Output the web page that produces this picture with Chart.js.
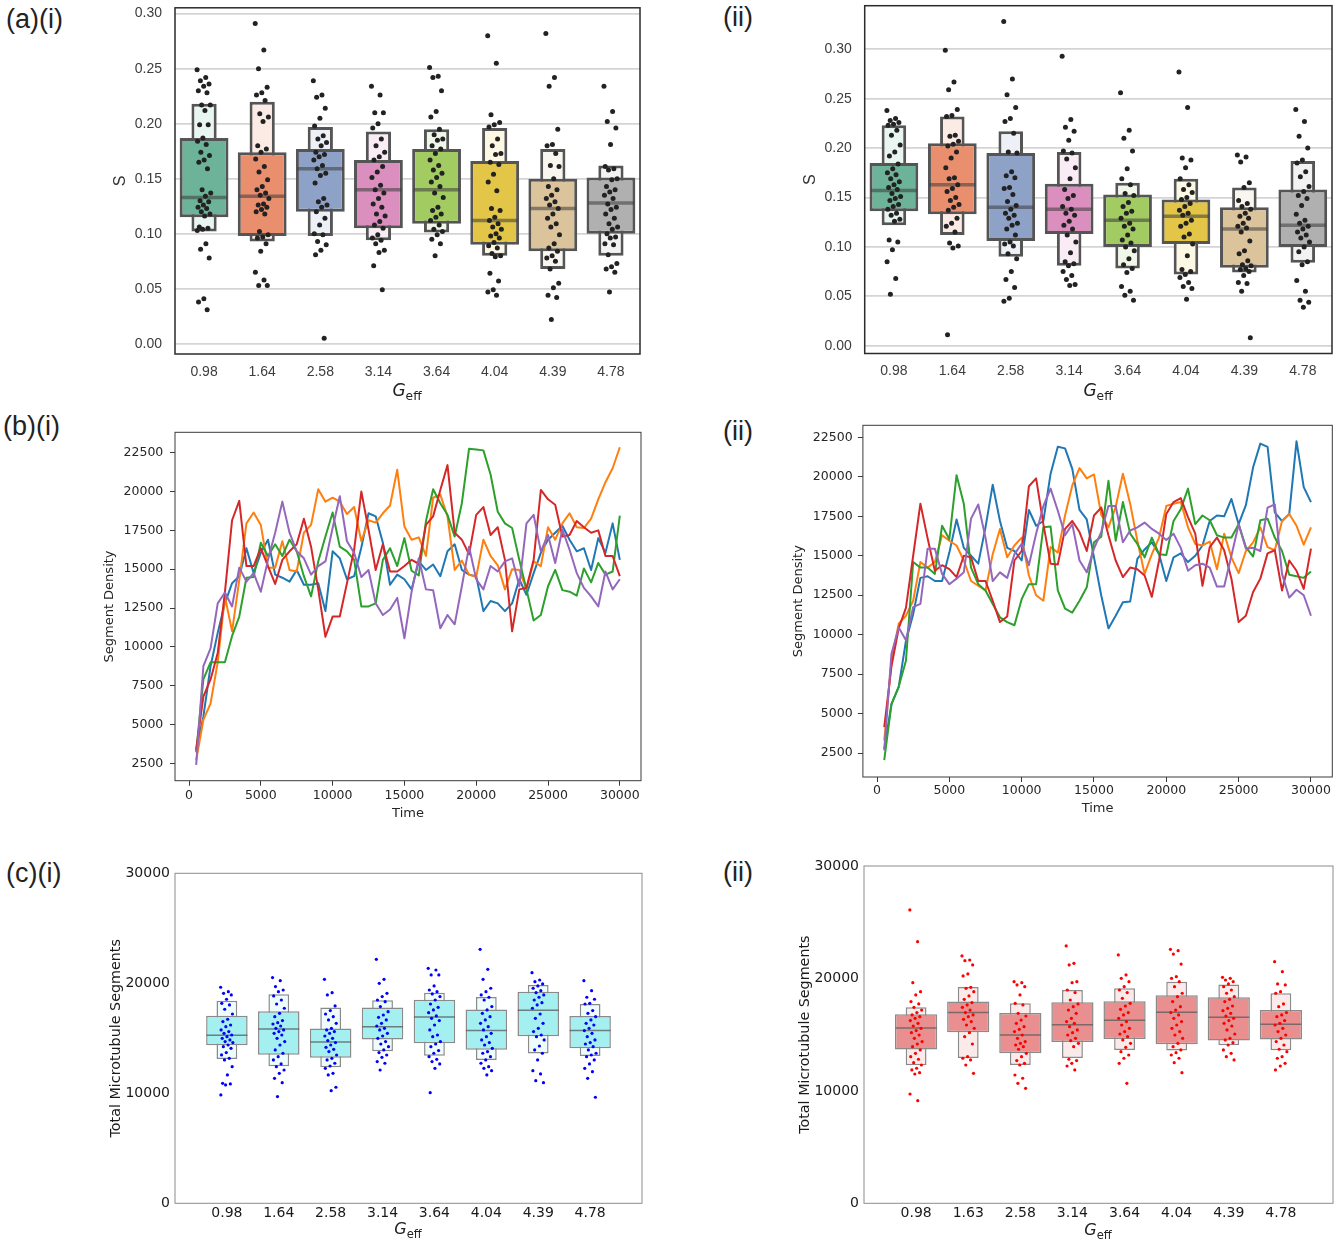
<!DOCTYPE html>
<html><head><meta charset="utf-8">
<script src="https://cdn.jsdelivr.net/npm/chart.js@4.4.1/dist/chart.umd.min.js"></script>
<style>
html,body{margin:0;padding:0;background:#fff}
body{width:1343px;height:1241px;position:relative;overflow:hidden}
canvas{position:absolute}
.pl{position:absolute;font-family:"Liberation Sans";font-size:27px;line-height:27px;color:#222;white-space:nowrap}
.gx{position:absolute;font-family:"DejaVu Sans";line-height:1;color:#222;transform:translateX(-50%);white-space:nowrap}
.gx i{font-style:italic}
.gx sub{font-size:0.72em;vertical-align:-0.35em;line-height:1}
</style></head><body>
<canvas id="a1" width="570" height="405" style="left:90px;top:0px"></canvas>
<canvas id="a2" width="563" height="405" style="left:780px;top:0px"></canvas>
<canvas id="b1" width="570" height="410" style="left:90px;top:420px"></canvas>
<canvas id="b2" width="563" height="410" style="left:780px;top:415px"></canvas>
<canvas id="c1" width="570" height="381" style="left:90px;top:860px"></canvas>
<canvas id="c2" width="563" height="391" style="left:780px;top:850px"></canvas>

<div class="pl" style="left:6px;top:6px">(a)(i)</div>
<div class="pl" style="left:723px;top:4px">(ii)</div>
<div class="pl" style="left:3px;top:413px">(b)(i)</div>
<div class="pl" style="left:723px;top:418px">(ii)</div>
<div class="pl" style="left:6px;top:860px">(c)(i)</div>
<div class="pl" style="left:723px;top:859px">(ii)</div>

<div class="gx" style="left:407px;top:382px;font-size:17px"><i>G</i><sub>eff</sub></div>
<div class="gx" style="left:1098px;top:382px;font-size:17px"><i>G</i><sub>eff</sub></div>
<div class="gx" style="left:408px;top:1221px;font-size:16px"><i>G</i><sub>eff</sub></div>
<div class="gx" style="left:1098px;top:1222px;font-size:16px"><i>G</i><sub>eff</sub></div>

<script>
// ================= DATA =================
const geffLabels = ['0.98','1.64','2.58','3.14','3.64','4.04','4.39','4.78'];
const geffLabelsC2 = ['0.98','1.63','2.58','3.14','3.64','4.04','4.39','4.78'];
const sTicks = [0, 0.05, 0.10, 0.15, 0.20, 0.25, 0.30];
const densityTicks = [2500, 5000, 7500, 10000, 12500, 15000, 17500, 20000, 22500];
const timeTicks = [0, 5000, 10000, 15000, 20000, 25000, 30000];
const segTicks = [0, 10000, 20000, 30000];

// (a)(i) letter-value boxes
const aiOuterHi = [0.218, 0.220, 0.197, 0.193, 0.195, 0.196, 0.177, 0.162];
const aiInnerHi = [0.187, 0.174, 0.177, 0.167, 0.177, 0.166, 0.150, 0.151];
const aiMedian  = [0.133, 0.134, 0.159, 0.140, 0.140, 0.112, 0.123, 0.128];
const aiInnerLo = [0.115, 0.098, 0.120, 0.105, 0.109, 0.090, 0.084, 0.100];
const aiOuterLo = [0.102, 0.093, 0.098, 0.094, 0.101, 0.080, 0.068, 0.080];
const aiPoints = [
 [0.249,0.242,0.239,0.236,0.234,0.230,0.228,0.217,0.217,0.212,0.199,0.199,0.187,0.184,0.181,0.174,0.171,0.167,0.165,0.159,0.140,0.137,0.134,0.130,0.129,0.126,0.124,0.123,0.120,0.118,0.116,0.106,0.105,0.104,0.103,0.091,0.086,0.078,0.041,0.038,0.031],
 [0.291,0.267,0.250,0.233,0.228,0.226,0.221,0.209,0.206,0.202,0.180,0.177,0.174,0.168,0.161,0.156,0.149,0.143,0.140,0.137,0.135,0.132,0.127,0.126,0.124,0.122,0.120,0.118,0.102,0.099,0.097,0.096,0.091,0.084,0.065,0.058,0.053,0.053],
 [0.239,0.226,0.224,0.214,0.205,0.198,0.189,0.186,0.183,0.180,0.174,0.172,0.170,0.167,0.162,0.159,0.155,0.153,0.146,0.132,0.129,0.126,0.124,0.120,0.114,0.108,0.100,0.099,0.093,0.090,0.085,0.081,0.005],
 [0.234,0.226,0.210,0.210,0.200,0.196,0.186,0.180,0.174,0.170,0.167,0.161,0.156,0.151,0.144,0.140,0.137,0.132,0.127,0.124,0.118,0.116,0.111,0.108,0.105,0.099,0.096,0.094,0.091,0.085,0.083,0.071,0.049],
 [0.251,0.243,0.242,0.230,0.211,0.206,0.195,0.190,0.186,0.185,0.180,0.177,0.173,0.167,0.162,0.158,0.155,0.151,0.147,0.143,0.137,0.133,0.124,0.121,0.118,0.115,0.112,0.108,0.104,0.102,0.099,0.095,0.091,0.080],
 [0.280,0.255,0.208,0.201,0.199,0.197,0.186,0.180,0.173,0.172,0.165,0.163,0.154,0.147,0.139,0.123,0.121,0.115,0.112,0.109,0.106,0.104,0.100,0.098,0.096,0.092,0.089,0.087,0.082,0.080,0.079,0.064,0.057,0.049,0.047,0.044],
 [0.282,0.242,0.234,0.195,0.181,0.180,0.173,0.162,0.161,0.150,0.143,0.140,0.135,0.132,0.129,0.126,0.123,0.118,0.114,0.109,0.106,0.099,0.091,0.087,0.084,0.080,0.078,0.075,0.068,0.055,0.051,0.044,0.042,0.022],
 [0.234,0.211,0.202,0.196,0.181,0.161,0.159,0.158,0.150,0.149,0.143,0.140,0.138,0.135,0.132,0.127,0.124,0.122,0.118,0.114,0.109,0.106,0.104,0.100,0.097,0.096,0.091,0.090,0.081,0.073,0.070,0.068,0.065,0.047]
];

// (a)(ii) letter-value boxes
const aiiOuterHi = [0.223, 0.232, 0.217, 0.196, 0.165, 0.169, 0.160, 0.187];
const aiiInnerHi = [0.185, 0.205, 0.195, 0.164, 0.153, 0.148, 0.140, 0.158];
const aiiMedian  = [0.157, 0.163, 0.140, 0.138, 0.127, 0.131, 0.118, 0.122];
const aiiInnerLo = [0.136, 0.133, 0.106, 0.113, 0.100, 0.103, 0.079, 0.100];
const aiiOuterLo = [0.122, 0.112, 0.090, 0.081, 0.078, 0.072, 0.074, 0.084];
const aiiPoints = [
 [0.238,0.230,0.228,0.226,0.224,0.223,0.218,0.213,0.203,0.196,0.192,0.184,0.179,0.175,0.173,0.169,0.166,0.163,0.160,0.158,0.154,0.151,0.149,0.147,0.143,0.141,0.138,0.134,0.132,0.128,0.126,0.107,0.105,0.097,0.085,0.068,0.052],
 [0.299,0.267,0.259,0.239,0.233,0.232,0.213,0.212,0.207,0.204,0.202,0.196,0.190,0.180,0.170,0.169,0.163,0.159,0.156,0.150,0.147,0.143,0.140,0.137,0.129,0.124,0.121,0.115,0.104,0.101,0.099,0.011],
 [0.328,0.270,0.254,0.241,0.230,0.227,0.215,0.196,0.195,0.176,0.172,0.170,0.160,0.159,0.153,0.146,0.142,0.138,0.134,0.132,0.129,0.124,0.122,0.118,0.112,0.105,0.103,0.101,0.093,0.088,0.075,0.067,0.059,0.048,0.045],
 [0.293,0.229,0.221,0.217,0.208,0.197,0.195,0.189,0.180,0.169,0.158,0.152,0.149,0.141,0.138,0.134,0.132,0.126,0.122,0.118,0.112,0.105,0.094,0.085,0.083,0.081,0.075,0.071,0.067,0.062,0.061],
 [0.256,0.218,0.210,0.197,0.179,0.169,0.163,0.154,0.152,0.145,0.141,0.136,0.134,0.129,0.124,0.121,0.118,0.112,0.107,0.104,0.100,0.096,0.088,0.082,0.078,0.074,0.060,0.055,0.051,0.046],
 [0.277,0.241,0.190,0.188,0.180,0.169,0.163,0.158,0.155,0.150,0.148,0.144,0.141,0.137,0.134,0.132,0.127,0.124,0.121,0.113,0.110,0.103,0.091,0.077,0.075,0.072,0.069,0.064,0.060,0.058,0.047],
 [0.193,0.191,0.186,0.165,0.160,0.147,0.144,0.141,0.138,0.134,0.131,0.129,0.124,0.121,0.119,0.115,0.106,0.096,0.093,0.086,0.082,0.081,0.078,0.077,0.075,0.071,0.064,0.063,0.055,0.008],
 [0.239,0.227,0.212,0.200,0.188,0.185,0.176,0.171,0.161,0.156,0.152,0.149,0.142,0.133,0.127,0.124,0.121,0.118,0.115,0.112,0.109,0.105,0.100,0.095,0.085,0.082,0.066,0.055,0.046,0.044,0.039]
];

// (b) segment density time series
const times = [500,1000,1500,2000,2500,3000,3500,4000,4500,5000,5500,6000,6500,7000,7500,8000,8500,9000,9500,10000,
 10500,11000,11500,12000,12500,13000,13500,14000,14500,15000,15500,16000,16500,17000,17500,18000,18500,19000,19500,20000,
 20500,21000,21500,22000,22500,23000,23500,24000,24500,25000,25500,26000,26500,27000,27500,28000,28500,29000,29500,30000];

const biBlue = [3300,5500,8750,10900,12800,14100,14550,16350,14750,16050,16900,14650,14450,14200,14950,14000,14000,14100,12300,16150,
 15700,14350,14550,16400,18600,18400,16700,14000,14650,14350,13700,15500,14950,15300,14550,16150,16600,14950,14650,14550,
 12300,12950,12800,12300,12800,14350,13350,14750,16050,16900,17350,17800,16900,16150,16350,14950,17000,16050,17950,15600];
const biOrange = [2700,5300,6350,9000,13250,11000,14300,17950,18650,17850,15100,15100,16800,14950,14850,17350,17850,20150,19350,19600,
 19350,18550,19000,16800,18150,18000,18600,19100,21400,17750,16900,17050,15850,19600,19800,18400,14950,15550,14650,14500,
 16900,15850,15250,13700,15000,14950,13700,15500,15200,17700,16900,17950,18600,17700,17650,18250,19500,20600,21500,22850];
const biGreen = [3200,7900,9000,9000,9000,10700,11950,14450,14500,16700,15850,16600,15850,16900,16150,14550,13250,15500,17100,18650,
 16450,16150,15600,12600,12600,12800,15600,16350,15200,17000,14900,14600,18100,20150,19250,18500,17100,19250,22750,22700,
 22650,21100,18700,17950,17650,15600,13700,11700,12050,13900,14950,13650,13550,13300,15050,14150,15400,14650,14850,18450];
const biRed = [3400,6800,7900,9600,13500,18150,19400,15200,15200,16350,15200,14050,15600,16150,16600,18250,16450,13700,10650,11950,
 11950,14100,16250,20000,17550,14950,16600,14850,14850,15200,15600,15350,17850,18400,20100,21700,17350,16900,15950,18500,
 19000,17200,17700,15600,11000,13700,13800,15600,20100,19500,19150,17100,17200,18100,17700,17350,17500,15850,15850,14550];
const biPurple = [2400,8750,9900,12800,13500,12600,15100,14200,14750,13550,15600,17350,19350,17350,16150,15700,14650,15200,15500,17650,
 19700,16800,16050,14500,14950,12800,12050,12400,13150,10550,13550,15700,13700,13650,11200,12050,11450,13900,16450,14350,
 13700,15200,14850,15500,15700,13900,17950,18500,16150,17200,15400,17550,16250,14750,13800,13250,12600,14850,13700,14350];

const biiBlue = [2770,5600,6700,9600,11300,13600,13700,13400,13400,15200,17300,15500,15000,14500,16800,19500,17200,15500,15300,14700,
 17900,16900,17200,20200,21900,21800,20500,17900,17300,14900,12500,10400,11200,12050,12100,14800,15400,15850,15100,13400,
 14900,15150,14600,15000,15650,17200,17550,17500,18600,17000,18200,20600,22100,21900,17750,17200,17650,22250,19350,18400];
const biiOrange = [3300,8350,10700,11200,12150,14600,14250,14600,16300,15950,15650,14700,13400,13100,12800,15100,16700,14900,15650,16150,
 13750,12500,12150,15550,15200,17550,19450,20550,19900,20150,17600,16800,18100,20200,18300,15950,13850,15100,16150,18150,
 18300,18400,16800,15750,15650,15900,14150,16400,14900,13900,15300,15850,16800,15550,15350,17200,17650,16900,15700,16800];
const biiGreen = [2050,5600,6700,8350,14600,14250,14250,13850,16900,16050,20100,18300,14250,13200,12800,11950,11100,10800,10600,12250,
 13200,13200,16800,16850,12800,11650,11400,12150,13000,15850,16200,19750,15950,18400,16400,15750,14900,16150,15100,15050,
 17200,17950,19250,17000,17550,17250,16300,16150,16150,17000,15550,14950,17250,17350,16150,15300,13800,13700,13600,14000];
const biiRed = [4140,8000,10400,11700,15000,18300,16100,14050,14400,14150,13650,15000,14900,13400,13400,12150,10800,11150,14700,15300,
 19400,19900,17000,14500,14450,16700,17200,16500,15300,17550,18050,16300,14700,13650,14250,14150,13750,12400,14700,17650,
 18400,18650,17450,16400,13100,15550,16150,15350,13550,10800,11200,12700,13550,15150,15350,12800,14700,14050,12900,15450];
const biiPurple = [2670,8800,10450,9650,11750,11950,15450,15450,13850,13200,13550,13950,17350,18250,16150,13400,13950,13600,15100,15750,
 14400,16400,18150,19250,17850,16300,17000,14700,13950,15450,16500,18150,18150,15850,16600,16800,17100,16700,16400,16000,
 16400,15500,14050,14400,14500,14250,13050,13050,15000,17000,15450,15500,15300,18050,18250,13850,12350,12850,12500,11200];

// (c)(i) total microtubule segments
const ciOuterHi = [18420, 19000, 17790, 18450, 19150, 18760, 19850, 18120];
const ciInnerHi = [17060, 17450, 15880, 17790, 18510, 17610, 19240, 17030];
const ciMedian  = [15270, 15850, 14670, 16060, 16940, 15700, 17540, 15700];
const ciInnerLo = [14360, 13510, 13240, 14880, 14550, 13970, 15180, 14090];
const ciOuterLo = [13120, 12450, 12360, 13820, 13420, 13030, 13610, 13390];
const ciPoints = [
 [19640,19240,19090,18940,18550,18180,18030,17640,17210,16730,16520,16210,16060,15760,15610,15450,15300,15150,15000,14850,14700,14610,14390,14240,14090,13700,13490,13180,13030,12420,11670,10910,10850,10760,9850],
 [20520,20240,19700,19390,19240,18850,18480,18120,17730,17270,16970,16610,16420,16300,16120,15910,15760,15610,15450,15300,15000,14700,14390,13940,13640,13330,13030,12670,12420,12120,11820,11360,10970,9700],
 [20360,19150,18940,17940,17520,17210,16970,16670,16360,15910,15760,15610,15450,15210,15000,14790,14610,14390,14180,14000,13790,13480,13180,13030,12730,12480,12270,11820,11670,10550,10240],
 [22180,20360,20000,19090,18790,18480,18330,17880,17420,17120,16910,16670,16360,16120,15910,15760,15450,15210,15000,14700,14480,14240,13940,13700,13480,13270,12880,12730,12120],
 [21360,21210,20760,20760,19760,19390,19240,19030,18790,18480,18120,17820,17580,17330,17030,16820,16610,16210,15760,15300,15150,14700,14480,14240,13880,13640,13330,13090,12880,12670,12270,10060],
 [23090,21270,20360,19550,19240,18940,18730,18480,17880,17580,17270,16970,16670,16360,16060,15760,15450,15150,14850,14610,14390,14090,13790,13640,13330,13030,12730,12420,12270,12060,11670],
 [20970,20300,20150,19940,19760,19550,19330,19150,18940,18730,18480,18240,18030,17730,17210,16820,16360,15910,15610,15300,15150,14850,14300,13940,13640,13030,12060,11760,11150,10970],
 [20240,19330,18730,18550,18180,18120,17520,17270,16970,16670,16360,16210,15910,15700,15450,15150,14850,14610,14480,14240,13940,13640,13480,13330,13030,12670,12270,11970,11360,9640]
];

// (c)(ii) total microtubule segments
const ciiOuterHi = [17430, 19240, 17790, 18970, 19120, 19710, 19450, 18680];
const ciiInnerHi = [16810, 17940, 16930, 17880, 17960, 18500, 18320, 17190];
const ciiMedian  = [15590, 16960, 14970, 15890, 16280, 16990, 16540, 15920];
const ciiInnerLo = [13670, 15210, 13340, 14350, 14610, 14140, 14470, 14560];
const ciiOuterLo = [12270, 12930, 12300, 12930, 13640, 13580, 14050, 13610];
const ciiPoints = [
 [26090,23270,19620,18820,18530,17940,17730,17430,17190,16960,16750,16600,16450,16250,16010,15770,15560,15360,15180,14970,14670,14380,14170,13930,13640,13340,13040,12810,12510,12300,12010,11860,11620,11500,9720,9130],
 [22000,21640,21580,21200,20400,20220,19210,19120,18820,18440,18140,17850,17640,17430,17190,16960,16750,16600,16360,16160,15860,15560,15180,14820,14170,13040,12900,12750,12300,11560],
 [19710,19620,19420,19270,18530,17790,17640,16900,16660,16300,16010,15710,15470,15270,14970,14670,14380,14230,14080,13930,13700,13340,13040,12690,12450,12300,11410,11120,10670,10230],
 [22890,21340,21200,19710,19620,18970,18740,18080,17730,17490,17190,16900,16450,16160,16010,15710,15420,15180,14970,14670,14470,14230,13930,12810,12690,12450,12210,11860],
 [22090,20310,20010,19710,19270,18970,18740,18230,17790,17550,17250,16960,16750,16450,16160,15860,15560,15270,15060,14820,14530,14230,13870,13490,13190,12900,12450,10670],
 [22590,22470,22170,21280,20160,20010,19710,19270,18680,18380,17940,17490,17190,16960,16750,16450,16160,15860,15560,15270,14970,14670,14230,13930,13640,13400,13190,12900,12510,11620],
 [20100,20010,19860,19710,19510,19270,18970,18680,18380,18140,17940,17550,17340,17130,16900,16660,16450,16250,16010,15770,15420,15060,14670,14530,14290,14080,13640,13340,13040,12750],
 [21490,20600,19510,19420,18820,18680,17730,17490,16960,16750,16600,16250,16010,15860,15560,15270,14970,14670,14380,14080,13700,13490,13040,12900,12450,12210,11860]
];

// ================= STYLES =================
const aInnerFill = ['#6cb39a','#e98f6e','#8ea2c8','#db8fbf','#a2cb62','#e3c547','#dbc39c','#b0b0b0'];
const aOuterFill = ['#e8f5f0','#fcebe4','#edf0f7','#faecf5','#f1f7e8','#fdf8e4','#f9f5ef','#f2f2f2'];
const lineColors = ['#1f77b4','#ff7f0e','#2ca02c','#d62728','#9467bd'];

Chart.register({
  id: 'frame',
  defaults: {color: '#000', width: 1},
  afterDraw(chart, args, opts) {
    const a = chart.chartArea, ctx = chart.ctx;
    ctx.save();
    ctx.strokeStyle = opts.color;
    ctx.lineWidth = opts.width;
    ctx.strokeRect(a.left, a.top, a.right - a.left, a.bottom - a.top);
    ctx.restore();
  }
});

// fix scale box sizes and drop the automatic label-overflow padding
const fixY = w => s => { s.width = w; s.paddingTop = 0; s.paddingBottom = 0; };
const fixX = h => s => { s.height = h; s.paddingLeft = 0; s.paddingRight = 0; };

// golden-ratio spread for strip-plot horizontal jitter (layout only)
const jitter = j => ((j * 0.6180339887) % 1) * 2 - 1;

function boxenPanel(id, p) {
  const idx = p.labels.map((_, i) => i);
  const pts = [];
  p.points.forEach((arr, i) => arr.forEach((v, j) => pts.push({x: i + jitter(j) * p.jit, y: v})));
  const tf = {family: p.font, size: p.tickSize};
  return new Chart(document.getElementById(id), {
    type: 'bar',
    data: {datasets: [
      {type: 'bar', data: idx.map(i => ({x: i, y: [p.outerLo[i], p.outerHi[i]]})), backgroundColor: p.outerFill,
       borderColor: p.edge, borderWidth: p.edgeW, borderSkipped: false, grouped: false,
       categoryPercentage: 1, barPercentage: p.outerPct, order: 4},
      {type: 'bar', data: idx.map(i => ({x: i, y: [p.innerLo[i], p.innerHi[i]]})), backgroundColor: p.innerFill,
       borderColor: p.edge, borderWidth: p.edgeW, borderSkipped: false, grouped: false,
       categoryPercentage: 1, barPercentage: p.innerPct, order: 3},
      {type: 'scatter', data: idx.map(i => ({x: i, y: p.median[i]})), pointStyle: 'line', pointRadius: p.medR,
       borderColor: p.medColor, pointBorderColor: p.medColor, pointBorderWidth: p.medW, order: 2},
      {type: 'scatter', data: pts, pointRadius: p.ptR, backgroundColor: p.ptColor, pointBackgroundColor: p.ptColor,
       pointBorderWidth: 0, borderWidth: 0, order: 1}
    ]},
    options: {
      responsive: false, animation: false, devicePixelRatio: 1, events: [],
      layout: {autoPadding: false, padding: {left: 0, top: p.padTop, right: p.padRight, bottom: 0}},
      plugins: {legend: {display: false}, tooltip: {enabled: false}, frame: {color: p.frameColor, width: p.frameW}},
      scales: {
        x: {type: 'linear', min: p.xMin, max: p.xMax, offset: false, bounds: 'data',
            afterBuildTicks: s => { s.ticks = idx.map(i => ({value: i})); },
            afterFit: fixX(p.xH),
            ticks: {callback: v => p.labels[Math.round(v)], font: tf, color: p.tickColor, padding: p.xPad,
                    autoSkip: false, maxRotation: 0, minRotation: 0},
            grid: {display: false, drawTicks: false}, border: {display: false}},
        y: {type: 'linear', min: p.yMin, max: p.yMax, bounds: 'data',
            afterBuildTicks: s => { s.ticks = p.yTicks.map(v => ({value: v})); },
            afterFit: fixY(p.yW),
            ticks: {callback: p.yFmt, font: tf, color: p.tickColor, padding: p.yPad},
            grid: {display: !!p.gridColor, drawTicks: false, color: p.gridColor || 'rgba(0,0,0,0)', lineWidth: p.gridW},
            border: {display: false},
            title: {display: true, text: p.yTitle, font: {family: p.font, size: p.titleSize}, color: p.titleColor,
                    padding: {top: p.yTitlePad, bottom: 0}}}
      }
    }
  });
}

function linePanel(id, p) {
  const tf = {family: 'DejaVu Sans', size: 12.5};
  const ttf = {family: 'DejaVu Sans', size: 13};
  return new Chart(document.getElementById(id), {
    type: 'line',
    data: {datasets: p.series.map((s, k) => ({
      data: times.map((t, i) => ({x: t, y: s[i]})), borderColor: lineColors[k], borderWidth: 2,
      pointRadius: 0, fill: false, tension: 0, borderJoinStyle: 'round', order: p.series.length - k}))},
    options: {
      responsive: false, animation: false, devicePixelRatio: 1, events: [],
      layout: {autoPadding: false, padding: {left: 0, top: p.padTop, right: p.padRight, bottom: 0}},
      plugins: {legend: {display: false}, tooltip: {enabled: false}, frame: {color: '#3a3a3a', width: 1}},
      scales: {
        x: {type: 'linear', min: -975, max: 31475, bounds: 'data',
            afterBuildTicks: s => { s.ticks = timeTicks.map(v => ({value: v})); },
            afterFit: fixX(p.xH),
            ticks: {callback: v => String(v), font: tf, color: '#262626', padding: p.xPad, autoSkip: false, maxRotation: 0},
            grid: {display: true, drawOnChartArea: false, drawTicks: true, tickLength: 5, color: '#3a3a3a', lineWidth: 1},
            border: {display: false},
            title: {display: true, text: 'Time', font: ttf, color: '#262626', padding: {top: 0, bottom: p.xTitlePad}}},
        y: {type: 'linear', min: p.yMin, max: p.yMax, bounds: 'data',
            afterBuildTicks: s => { s.ticks = densityTicks.map(v => ({value: v})); },
            afterFit: fixY(p.yW),
            ticks: {callback: v => String(v), font: tf, color: '#262626', padding: p.yPad},
            grid: {display: true, drawOnChartArea: false, drawTicks: true, tickLength: 5, color: '#3a3a3a', lineWidth: 1},
            border: {display: false},
            title: {display: true, text: 'Segment Density', font: ttf, color: '#262626', padding: {top: p.yTitlePad, bottom: 0}}}
      }
    }
  });
}

const aStyle = {font: 'Liberation Sans', tickSize: 14, tickColor: '#3d3d3d', gridColor: '#d4d4d4', gridW: 1.8,
  frameColor: '#2b2b2b', frameW: 1.5, yTitle: 'S', titleSize: 16, titleColor: '#333',
  edge: '#555555', edgeW: 3, medR: 23, medColor: 'rgba(60,60,60,0.55)', medW: 3.5, ptR: 2.5, ptColor: '#222',
  jit: 0.12, innerFill: aInnerFill, outerFill: aOuterFill, xMin: -0.5, xMax: 7.5, yTicks: sTicks,
  yFmt: v => v.toFixed(2), yPad: 13, labels: geffLabels};

boxenPanel('a1', Object.assign({}, aStyle, {
  outerLo: aiOuterLo, outerHi: aiOuterHi, innerLo: aiInnerLo, innerHi: aiInnerHi, median: aiMedian, points: aiPoints,
  yMin: -0.0093, yMax: 0.3053, padTop: 7.8, padRight: 20, xH: 51, yW: 85, xPad: 9.6, yTitlePad: 20.5,
  innerPct: 0.84, outerPct: 0.434}));

boxenPanel('a2', Object.assign({}, aStyle, {
  outerLo: aiiOuterLo, outerHi: aiiOuterHi, innerLo: aiiInnerLo, innerHi: aiiInnerHi, median: aiiMedian, points: aiiPoints,
  yMin: -0.0079, yMax: 0.3441, padTop: 5.7, padRight: 11, xH: 51.5, yW: 84.7, xPad: 9.1, yTitlePad: 20.5,
  innerPct: 0.834, outerPct: 0.42}));

linePanel('b1', {series: [biBlue, biOrange, biGreen, biRed, biPurple],
  yMin: 1380, yMax: 23814, padTop: 12.3, padRight: 19, xH: 49.3, yW: 85, xPad: 2.8, yPad: 6.7,
  yTitlePad: 12.3, xTitlePad: 8.9});

linePanel('b2', {series: [biiBlue, biiOrange, biiGreen, biiRed, biiPurple],
  yMin: 988, yMax: 23262, padTop: 10.3, padRight: 10.7, xH: 48, yW: 82.9, xPad: 1.2, yPad: 5.3,
  yTitlePad: 10.8, xTitlePad: 8.9});

const cStyle = {font: 'DejaVu Sans', tickSize: 14, tickColor: '#1a1a1a', gridColor: null, gridW: 0,
  frameColor: '#8c8c8c', frameW: 1, yTitle: 'Total Microtubule Segments', titleSize: 14.3, titleColor: '#1a1a1a',
  edge: '#8a8a8a', edgeW: 1.5, medR: 20.5, medColor: 'rgba(90,90,90,0.75)', medW: 1.5, ptR: 1.6,
  jit: 0.12, xMin: -1, xMax: 8, yMin: 0, yMax: 30000, yTicks: segTicks, yFmt: v => String(v), yPad: 5, xPad: 1.3,
  outerPct: 0.40};

boxenPanel('c1', Object.assign({}, cStyle, {labels: geffLabels,
  outerLo: ciOuterLo, outerHi: ciOuterHi, innerLo: ciInnerLo, innerHi: ciInnerHi, median: ciMedian, points: ciPoints,
  innerFill: '#a4eff0', outerFill: '#effcfc', ptColor: '#0000ff',
  padTop: 13.3, padRight: 18, xH: 37.7, yW: 85, yTitlePad: 17.3, innerPct: 0.80}));

boxenPanel('c2', Object.assign({}, cStyle, {labels: geffLabelsC2,
  outerLo: ciiOuterLo, outerHi: ciiOuterHi, innerLo: ciiInnerLo, innerHi: ciiInnerHi, median: ciiMedian, points: ciiPoints,
  innerFill: '#e98f8f', outerFill: '#fbeaea', ptColor: '#ff0000',
  padTop: 16, padRight: 10, xH: 37.7, yW: 84, yTitlePad: 16.8, innerPct: 0.81}));
</script>
</body></html>
